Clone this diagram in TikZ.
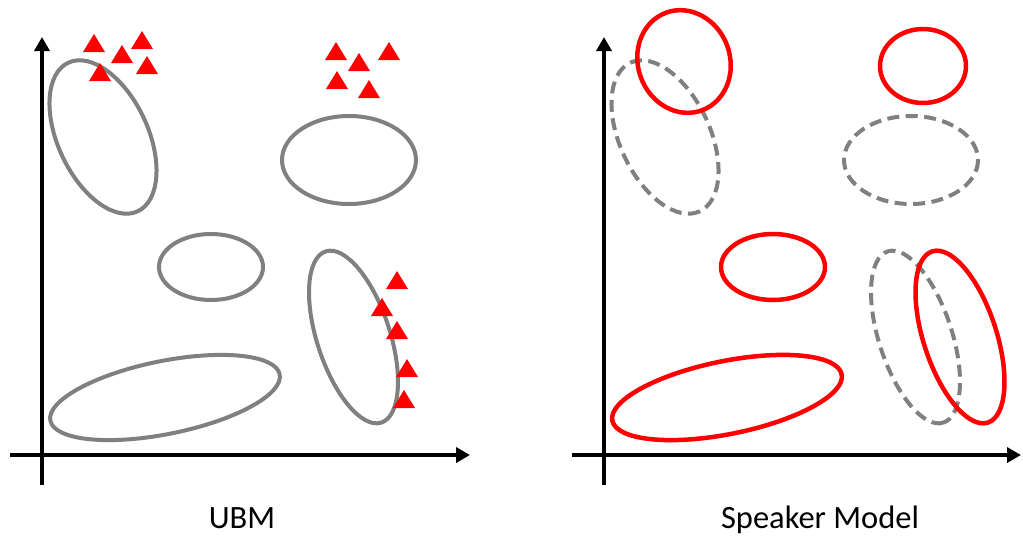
\documentclass[tikz,border=0pt]{standalone}
\usepackage{fontspec}
\setmainfont{Carlito}
\usetikzlibrary{arrows.meta}
\definecolor{ubmgray}{RGB}{128,128,128}
\definecolor{spkred}{RGB}{255,0,0}
\begin{document}
\begin{tikzpicture}[x=1pt,y=-1pt,
  axis/.style={line width=4pt,-{Triangle[length=14pt,width=15pt]}},
  ubm/.style={draw=ubmgray,line width=4pt},
  ubmdash/.style={ubm,dash pattern=on 12pt off 6.5pt},
  spk/.style={draw=spkred,line width=4.5pt},
  redtri/.pic={\fill[spkred] (-11,0) -- (11,0) -- (0,-18) -- cycle;},
  lbl/.style={anchor=base,font=\fontsize{32.5}{38}\selectfont}]
\useasboundingbox (0,0) rectangle (1023,536);
% ---------- left panel (UBM) ----------
\coordinate (ly0) at (42,485);
\coordinate (ly1) at (42,37);
\coordinate (lx0) at (10,455);
\coordinate (lx1) at (470,455);
\draw[axis] (ly0) -- (ly1);
\draw[axis] (lx0) -- (lx1);
\draw[ubm,rotate around={-65:(103,137)}] (103,137) ellipse [x radius=82, y radius=45];
\draw[ubm] (349,160) ellipse [x radius=67, y radius=44];
\draw[ubm] (211,267) ellipse [x radius=52, y radius=33];
\draw[ubm,rotate around={-72:(353.5,337)}] (353.5,337) ellipse [x radius=90, y radius=36.5];
\draw[ubm,rotate around={11.4:(165,397.5)}] (165,397.5) ellipse [x radius=117, y radius=36.5];
% triangles
\pic at (94,52) {redtri};
\pic at (122,63) {redtri};
\pic at (142,49) {redtri};
\pic at (147,74) {redtri};
\pic at (100,81) {redtri};
\pic at (336,60) {redtri};
\pic at (359,71) {redtri};
\pic at (389,60) {redtri};
\pic at (337,89) {redtri};
\pic at (369,98) {redtri};
\pic at (397,289) {redtri};
\pic at (382,316) {redtri};
\pic at (397,339) {redtri};
\pic at (407,377) {redtri};
\pic at (404,408) {redtri};
\node[lbl] (ubmlabel) at (242,528) {UBM};
% ---------- right panel (Speaker Model) ----------
\coordinate (ry0) at (604,485);
\coordinate (ry1) at (604,37);
\coordinate (rx0) at (572,455);
\coordinate (rx1) at (1021,455);
\draw[axis] (ry0) -- (ry1);
\draw[axis] (rx0) -- (rx1);
\draw[ubmdash,rotate around={-65:(665,137)}] (665,137) ellipse [x radius=82, y radius=45];
\draw[ubmdash] (911,160) ellipse [x radius=67, y radius=44];
\draw[ubmdash,rotate around={-72:(915.5,337)}] (915.5,337) ellipse [x radius=90, y radius=36.5];
\draw[spk,rotate around={-70:(684,61.5)}] (684,61.5) ellipse [x radius=52, y radius=46];
\draw[spk] (923,66) ellipse [x radius=43, y radius=37];
\draw[spk] (773,267) ellipse [x radius=52, y radius=33];
\draw[spk,rotate around={-72:(960,337)}] (960,337) ellipse [x radius=90, y radius=36.5];
\draw[spk,rotate around={11.4:(727,397.5)}] (727,397.5) ellipse [x radius=117, y radius=36.5];
\node[lbl] (spklabel) at (820,528) {Speaker Model};
\end{tikzpicture}
\end{document}
